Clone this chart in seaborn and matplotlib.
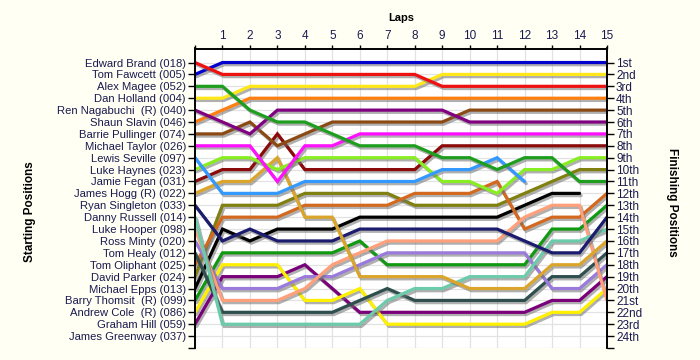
import matplotlib
matplotlib.use("Agg")
import matplotlib.pyplot as plt
import matplotlib.patheffects as pe
import seaborn as sns
import pandas as pd

N = None
laps = list(range(16))

drivers = ["Edward Brand (018)", "Tom Fawcett (005)", "Alex Magee (052)", "Dan Holland (004)",
           "Ren Nagabuchi  (R) (040)", "Shaun Slavin (046)", "Barrie Pullinger (074)",
           "Michael Taylor (026)", "Lewis Seville (097)", "Luke Haynes (023)", "Jamie Fegan (031)",
           "James Hogg (R) (022)", "Ryan Singleton (033)", "Danny Russell (014)", "Luke Hooper (098)",
           "Ross Minty (020)", "Tom Healy (012)", "Tom Oliphant (025)", "David Parker (024)",
           "Michael Epps (013)", "Barry Thomsit  (R) (099)", "Andrew Cole  (R) (086)",
           "Graham Hill (059)", "James Greenway (037)"]

colors = ["#EE1111", "#0000CC", "#1E9E1E", "#FFE81A", "#800080", "#FF8010", "#8B4A14",
          "#FF10FF", "#3399FF", "#88EE22", "#8B0A0A", "#DAA52A", "#1C1C6E", "#6CCBAA",
          "#FFA07A", "#9A7ADB", "#2F4F4F", "#D2691E", "#808010", "#000000", "#119911",
          "#FFF000", "#7A007A", "#999999"]

finish_labels = ["1st", "2nd", "3rd", "4th", "5th", "6th", "7th", "8th", "9th", "10th",
                 "11th", "12th", "13th", "14th", "15th", "16th", "17th", "18th", "19th",
                 "20th", "21st", "22nd", "23rd", "24th"]

brand     = [1, 2, 2, 2, 2, 2, 2, 2, 2, 3, 3, 3, 3, 3, 3, 3]
fawcett   = [2, 1, 1, 1, 1, 1, 1, 1, 1, 1, 1, 1, 1, 1, 1, 1]
magee     = [3, 3, 5, 6, 6, 7, 8, 8, 8, 9, 9, 10, 9, 9, 11, 11]
holland   = [4, 4, 3, 3, 3, 3, 3, 3, 3, 2, 2, 2, 2, 2, 2, 2]
nagabuchi = [5, 6, 7, 5, 5, 5, 5, 5, 5, 5, 6, 6, 6, 6, 6, 6]
slavin    = [6, 5, 4, 4, 4, 4, 4, 4, 4, 4, 4, 4, 4, 4, 4, 4]
pullinger = [7, 7, 6, 8, 7, 6, 6, 6, 6, 6, 5, 5, 5, 5, 5, 5]
taylor    = [8, 8, 8, 11, 8, 8, 7, 7, 7, 7, 7, 7, 7, 7, 7, 7]
seville   = [9, 12, 12, 12, 11, 11, 11, 11, 11, 10, 10, 9, 11, N, N, N]
haynes    = [10, 9, 9, 10, 9, 9, 9, 9, 9, 11, 11, 12, 10, 10, 9, 9]
fegan     = [11, 10, 10, 7, 10, 10, 10, 10, 10, 8, 8, 8, 8, 8, 8, 8]
hogg      = [12, 11, 11, 9, 14, 14, 19, 19, 19, 19, 20, 20, 20, 18, 18, 16]
singleton = [13, 16, 15, 16, 16, 16, 15, 15, 15, 15, 15, 15, 16, 17, 17, 14]
russell   = [14, 23, 23, 23, 23, 23, 23, 21, 20, 20, 19, 19, 19, 16, 16, 15]
hooper    = [15, 21, 21, 21, 20, 18, 17, 16, 16, 16, 16, 16, 14, 13, 13, 21]
minty     = [16, 20, 20, 20, 19, 19, 18, 17, 17, 17, 17, 17, 17, 20, 20, 18]
healy     = [17, 22, 22, 22, 22, 22, 21, 20, 21, 21, 21, 21, 21, 19, 19, 17]
oliphant  = [18, 14, 14, 14, 13, 13, 13, 13, 12, 12, 12, 11, 15, 14, 14, 12]
parker    = [19, 13, 13, 13, 12, 12, 12, 12, 13, 13, 13, 13, 12, 11, 10, 10]
epps      = [20, 15, 16, 15, 15, 15, 14, 14, 14, 14, 14, 14, 13, 12, 12, N]
thomsit   = [21, 17, 17, 17, 17, 17, 16, 18, 18, 18, 18, 18, 18, 15, 15, 13]
cole      = [22, 18, 18, 18, 21, 21, 20, 23, 23, 23, 23, 23, 23, 22, 22, 20]
hill      = [23, 19, 19, 19, 18, 20, 22, 22, 22, 22, 22, 22, 22, 21, 21, 19]
greenway  = [N] * 16

series = [brand, fawcett, magee, holland, nagabuchi, slavin, pullinger, taylor, seville,
          haynes, fegan, hogg, singleton, russell, hooper, minty, healy, oliphant, parker,
          epps, thomsit, cole, hill, greenway]

rows = []
for name, pos in zip(drivers, series):
    for lap, p in zip(laps, pos):
        if p is not None:
            rows.append({"lap": lap, "pos": p, "driver": name})
df = pd.DataFrame(rows)
present = [d for d in drivers if d in set(df["driver"])]
palette = {d: c for d, c in zip(drivers, colors)}

sns.set_style("white")
plt.rcParams["font.family"] = ["Liberation Sans", "DejaVu Sans"]
txt = "#1a1a50"

fig = plt.figure(figsize=(7, 3.6), dpi=100, facecolor="#FFFFF4")
ax = fig.add_axes([195 / 700, 1 - 348 / 360, 412 / 700, 299.5 / 360])
ax.set_facecolor("white")

sns.lineplot(data=df, x="lap", y="pos", hue="driver", hue_order=present[::-1],
             palette=palette, estimator=None, sort=True, legend=False,
             linewidth=2.3, ax=ax)
for ln in ax.lines:
    ln.set_path_effects([pe.SimpleLineShadow(offset=(1.2, -1.6), shadow_color="#707070", alpha=0.55),
                         pe.Normal()])
    ln.set_solid_joinstyle("miter")

ax.set_xlim(0, 15)
ax.set_ylim(25, -0.18)
ax.xaxis.tick_top()
ax.set_xticks(laps)
ax.set_xticklabels([""] + [str(i) for i in laps[1:]], color=txt, fontsize=8.5)
ax.set_yticks(list(range(1, 26)))
ax.set_yticklabels(drivers + [""], color=txt, fontsize=8.1)
ax.set_xlabel("")
ax.set_ylabel("")
ax.grid(True, color="#E2E2E2", linewidth=0.9)
ax.set_axisbelow(True)
ax.tick_params(axis="x", top=True, length=3, width=1, pad=2, color="black")
ax.tick_params(axis="y", left=True, length=5, width=1, pad=1.5, color="black")
for s in ["left", "right", "top"]:
    ax.spines[s].set_visible(True)
    ax.spines[s].set_color("black")
    ax.spines[s].set_linewidth(1.2)
ax.spines["bottom"].set_visible(False)

ax2 = ax.twinx()
ax2.set_ylim(ax.get_ylim())
ax2.set_yticks(list(range(1, 26)))
ax2.set_yticklabels(finish_labels + [""], color=txt, fontsize=8.5)
ax2.tick_params(axis="y", right=True, length=5, width=1, pad=1.5, color="black")
for s in ["left", "right", "top"]:
    ax2.spines[s].set_color("black")
    ax2.spines[s].set_linewidth(1.2)
ax2.spines["bottom"].set_visible(False)

fig.text(401 / 700, 1 - 18 / 360, "Laps", ha="center", va="center", fontsize=8, weight="bold", color="black")
fig.text(30 / 700, 1 - 212 / 360, "Starting Positions", ha="center", va="center", rotation=90,
         fontsize=8.5, weight="bold", color="black")
fig.text(672 / 700, 1 - 202 / 360, "Finishing Positions", ha="center", va="center", rotation=270,
         fontsize=8.5, weight="bold", color="black")

fig.savefig("out.png", dpi=100, facecolor=fig.get_facecolor())
